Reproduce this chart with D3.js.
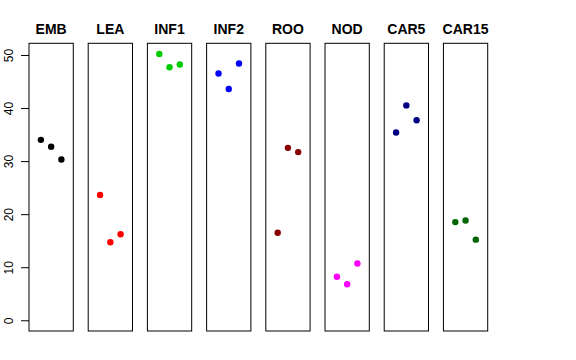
<!DOCTYPE html>
<html><head><meta charset="utf-8">
<script src="https://cdn.jsdelivr.net/npm/d3@7"></script>
<style>body{margin:0;background:#fff}svg{display:block}</style>
</head><body>
<svg id="c" width="576" height="360"></svg>
<script>
const categories = ["EMB","LEA","INF1","INF2","ROO","NOD","CAR5","CAR15"];
const colors = ["#000000","#FF0000","#00CD00","#0000FF","#8B0000","#FF00FF","#000080","#006400"];
const rep1 = [34.0, 23.6, 50.2, 46.5, 16.5, 8.2, 35.4, 18.5];
const rep2 = [32.7, 14.7, 47.7, 43.6, 32.5, 6.8, 40.5, 18.8];
const rep3 = [30.3, 16.2, 48.2, 48.4, 31.7, 10.7, 37.7, 15.2];
const yTicks = [0,10,20,30,40,50];

const svg = d3.select("#c");
const band = d3.scaleBand().domain(categories).range([29, 487.7]).paddingInner(0.252).paddingOuter(0);
const y = d3.scaleLinear().domain([-2.02, 52.2]).range([331, 43.3]);
const xIn = d3.scaleLinear().domain([-0.16, 4.16]).range([0, band.bandwidth()]);

categories.forEach((cat, i) => {
  const g = svg.append("g").attr("transform", `translate(${band(cat)},0)`);
  g.append("rect").attr("x", 0).attr("y", y(52.2)).attr("width", band.bandwidth())
    .attr("height", y(-2.02) - y(52.2)).attr("fill", "none").attr("stroke", "#000").attr("stroke-width", 1);
  g.append("text").attr("x", band.bandwidth()/2).attr("y", 34.3).attr("text-anchor", "middle")
    .attr("font-family", "Liberation Sans, Arial, sans-serif").attr("font-weight", "bold")
    .attr("font-size", 14).text(cat);
  const vals = [rep1[i], rep2[i], rep3[i]];
  g.selectAll("circle").data(vals).join("circle")
    .attr("cx", (d, j) => xIn(j + 1)).attr("cy", d => y(d)).attr("r", 3.2)
    .attr("fill", colors[i]);
});

const ax = svg.append("g").attr("transform", "translate(29,0)")
  .call(d3.axisLeft(y).tickValues(yTicks).tickSize(8).tickFormat(d3.format("d")));
ax.select(".domain").remove();
ax.selectAll(".tick line").attr("stroke", "#000");
ax.selectAll(".tick text").attr("font-family", "Liberation Sans, Arial, sans-serif").attr("font-size", 12)
  .attr("fill", "#000").attr("x", null).attr("dy", null)
  .attr("text-anchor", "middle")
  .attr("transform", "translate(-16.5,0) rotate(-90)");
</script>
</body></html>
